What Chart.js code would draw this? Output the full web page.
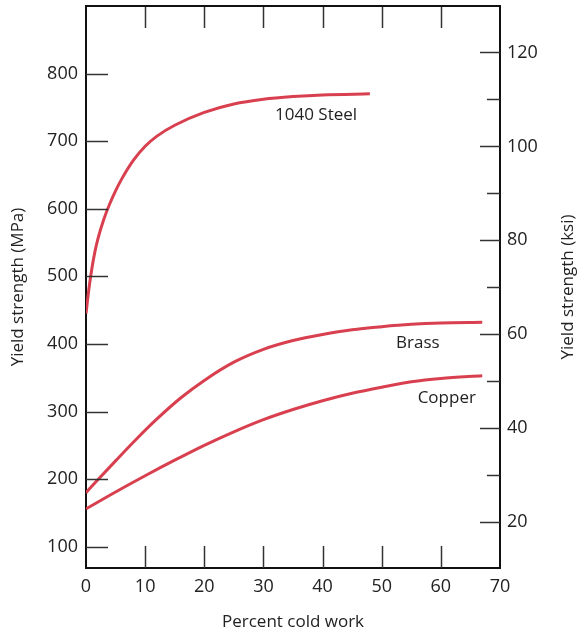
<!DOCTYPE html>
<html><head><meta charset="utf-8">
<script src="https://cdn.jsdelivr.net/npm/chart.js@4"></script>
<style>html,body{margin:0;padding:0;background:#fff}</style>
</head><body>
<canvas id="c" width="580" height="636" style="display:block"></canvas>
<script>
// ---- data ----
const steelX  = [0,0.5,1,1.5,2,3,4,5,6,8,10,12,15,20,25,30,35,40,48];
const steelY  = [445,482,512,536,555,584,607,626.5,643.5,671.5,692.5,707.5,723.5,742.5,755,762,766,768.5,770];
const brassX  = [0,2,5,8.5,12,16,20,25,30,35,40,45,50,55,60,67];
const brassY  = [180,199,227,259,289,320,346,373,392,405,414,421,425.5,429,431,432];
const copperX = [0,5,10,15,20,25,30,35,40,45,50,55,60,67];
const copperY = [156,181,205,228,250,270,288,303,316,327,336,344,349,353];
const xTicks   = [0,10,20,30,40,50,60,70];
const mpaTicks = [100,200,300,400,500,600,700,800];
const ksiTicks = [20,30,40,50,60,70,80,90,100,110,120];
const curveLabels = ['1040 Steel','Brass','Copper'];
const labelX = [38.9,56.1,61];
const labelY = [739,401,320];

const FONT = "'Open Sans', sans-serif";
const RED = '#d9404f';
const TXT = '#222';

function pts(xs, ys){ return xs.map((x,i)=>({x:x, y:ys[i]})); }

const innerTicks = {
  id:'innerTicks',
  afterDraw(chart){
    const {ctx, chartArea:a, scales} = chart;
    const line=(x1,y1,x2,y2)=>{ctx.beginPath();ctx.moveTo(x1,y1);ctx.lineTo(x2,y2);ctx.stroke();};
    ctx.save();
    ctx.strokeStyle='#333'; ctx.lineWidth=1.5;
    xTicks.forEach(v=>{
      if(v<=scales.x.min||v>=scales.x.max) return;
      const px=Math.round(scales.x.getPixelForValue(v))+0.5;
      line(px,a.bottom,px,a.bottom-22);
      line(px,a.top,px,a.top+22);
    });
    mpaTicks.forEach(v=>{
      const py=Math.round(scales.y.getPixelForValue(v))+0.5;
      line(a.left,py,a.left+22,py);
    });
    ksiTicks.forEach(v=>{
      const py=Math.round(scales.y2.getPixelForValue(v))+0.5;
      const L = v%20===0?20:13;
      line(a.right,py,a.right-L,py);
    });
    ctx.strokeStyle='#111'; ctx.lineWidth=2;
    line(a.left-1,a.top,a.right+1,a.top);
    ctx.fillStyle=TXT; ctx.font='17px '+FONT; ctx.textAlign='center'; ctx.textBaseline='middle';
    curveLabels.forEach((t,i)=>{
      ctx.fillText(t, scales.x.getPixelForValue(labelX[i]), scales.y.getPixelForValue(labelY[i]));
    });
    // right axis title, reading bottom-to-top like the left one
    ctx.translate(568, (a.top+a.bottom)/2);
    ctx.rotate(-Math.PI/2);
    ctx.fillText('Yield strength (ksi)', 0, 0);
    ctx.restore();
  }
};

const tickFont = {family:FONT, size:18};
const noPadV = s=>{s.paddingTop=0; s.paddingBottom=0;};
new Chart(document.getElementById('c'), {
  type:'line',
  data:{datasets:[
    {label:'1040 Steel', data:pts(steelX,steelY)},
    {label:'Brass', data:pts(brassX,brassY)},
    {label:'Copper', data:pts(copperX,copperY)}
  ].map(d=>Object.assign(d,{borderColor:RED,borderWidth:3,pointRadius:0,fill:false,cubicInterpolationMode:'monotone',yAxisID:'y'}))},
  options:{
    responsive:false, animation:false, devicePixelRatio:1,
    layout:{padding:{top:6,left:0,right:0,bottom:0}},
    plugins:{legend:{display:false}, tooltip:{enabled:false}},
    scales:{
      x:{type:'linear', position:'bottom', min:0, max:70,
         afterBuildTicks:s=>{s.ticks=xTicks.map(v=>({value:v}));},
         afterFit:s=>{s.height=68; s.paddingLeft=0; s.paddingRight=0;},
         grid:{display:false, drawTicks:false},
         border:{display:true, color:'#111', width:2},
         ticks:{font:tickFont, color:TXT, padding:8, maxRotation:0},
         title:{display:true, text:'Percent cold work', font:{family:FONT,size:17}, color:TXT, padding:{top:0,bottom:4}}},
      y:{type:'linear', position:'left', min:68.5, max:900,
         afterBuildTicks:s=>{s.ticks=mpaTicks.map(v=>({value:v}));},
         afterFit:s=>{s.width=86; noPadV(s);},
         grid:{display:false, drawTicks:false},
         border:{display:true, color:'#111', width:2},
         ticks:{font:tickFont, color:TXT, padding:8},
         title:{display:true, text:'Yield strength (MPa)', font:{family:FONT,size:17}, color:TXT, padding:{top:8,bottom:0}}},
      y2:{type:'linear', position:'right', min:10.2, max:129.9,
         afterBuildTicks:s=>{s.ticks=ksiTicks.map(v=>({value:v}));},
         afterFit:s=>{s.width=80; noPadV(s);},
         grid:{display:false, drawTicks:false},
         border:{display:true, color:'#111', width:2},
         ticks:{font:tickFont, color:TXT, padding:7, callback:v=>(v%20===0?String(v):'')},
         title:{display:false}}
    }
  },
  plugins:[innerTicks]
});
</script>
</body></html>
